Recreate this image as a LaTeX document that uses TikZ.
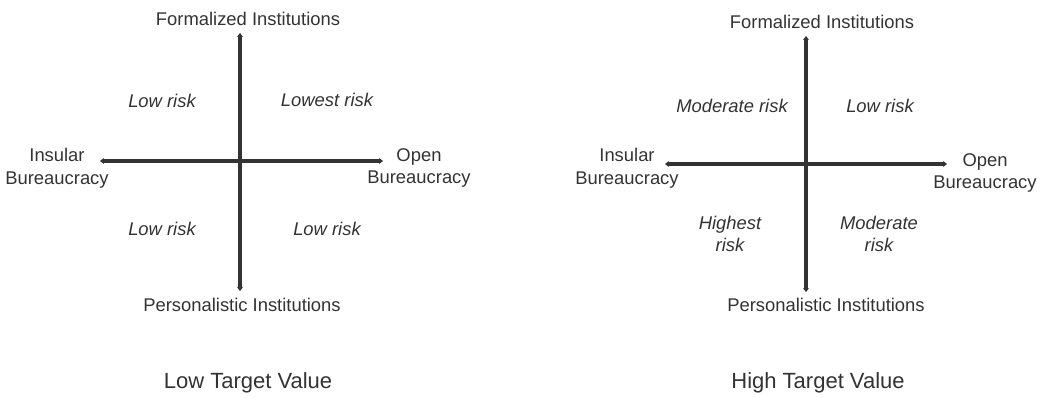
\documentclass[tikz,border=0pt]{standalone}
\usepackage{fontspec}
\setmainfont{Liberation Sans}
\usetikzlibrary{arrows.meta}
\definecolor{ink}{HTML}{333333}
\tikzset{
  axis/.style={line width=3.5pt, draw=ink, {Stealth[length=4pt,width=6pt]}-{Stealth[length=4pt,width=6pt]}},
  lbl/.style={text=ink, font=\fontsize{18.4}{22.5}\selectfont, align=center, inner sep=0pt},
  risk/.style={lbl, font=\fontsize{18.4}{22.5}\selectfont\itshape},
  ttl/.style={text=ink, font=\fontsize{22}{26}\selectfont, inner sep=0pt},
}
\begin{document}
\begin{tikzpicture}[x=1pt,y=-1pt]
\useasboundingbox (0,0) rectangle (1045,397);
% left diagram
\coordinate (LT) at (240,33);
\coordinate (LB) at (240,291);
\coordinate (LL) at (100,161);
\coordinate (LR) at (383,161);
\draw[axis] (LT) -- (LB);
\draw[axis] (LL) -- (LR);
\node[lbl] (lf) at (248,19) {Formalized Institutions};
\node[lbl] (lp) at (242,305) {Personalistic Institutions};
\node[lbl] (li) at (57,168) {Insular\\Bureaucracy};
\node[lbl] (lo) at (419,168) {Open\\Bureaucracy};
\node[risk] (l1) at (162,101) {Low risk};
\node[risk] (l2) at (327,100) {Lowest risk};
\node[risk] (l3) at (162,229) {Low risk};
\node[risk] (l4) at (327,229) {Low risk};
\node[ttl] (lt) at (248,383) {Low Target Value};
% right diagram
\coordinate (RT) at (806,36);
\coordinate (RB) at (806,292);
\coordinate (RL) at (665,164);
\coordinate (RR) at (947,164);
\draw[axis] (RT) -- (RB);
\draw[axis] (RL) -- (RR);
\node[lbl] (rf) at (822,22) {Formalized Institutions};
\node[lbl] (rp) at (826,305) {Personalistic Institutions};
\node[lbl] (ri) at (627,168) {Insular\\Bureaucracy};
\node[lbl] (ro) at (985,173) {Open\\Bureaucracy};
\node[risk] (r1) at (732,106) {Moderate risk};
\node[risk] (r2) at (880,106) {Low risk};
\node[risk] (r3) at (730,234) {Highest\\risk};
\node[risk] (r4) at (879,234) {Moderate\\risk};
\node[ttl] (rt) at (818,383) {High Target Value};
\end{tikzpicture}
\end{document}
